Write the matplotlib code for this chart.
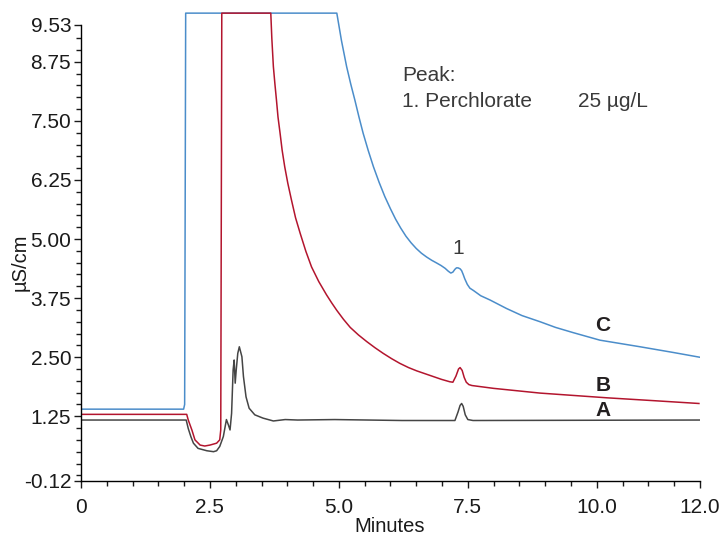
import matplotlib
matplotlib.use("Agg")
import matplotlib.pyplot as plt

#Chromatogram data (time in minutes, conductivity in uS/cm)
time_a = [0, 2.04, 2.08, 2.13, 2.18, 2.27, 2.44, 2.57, 2.63, 2.69, 2.76, 2.82, 2.86, 2.89, 2.92, 2.95,
          2.97, 2.99, 3.01, 3.04, 3.07, 3.12, 3.15, 3.20, 3.26, 3.37, 3.53, 3.73, 3.96, 4.2, 4.92, 6.22,
          7.25, 7.31, 7.35, 7.38, 7.41, 7.45, 7.50, 7.60, 12.0]
signal_a = [1.17, 1.17, 0.99, 0.82, 0.68, 0.57, 0.52, 0.50, 0.52, 0.61, 0.82, 1.18, 1.06, 0.96, 1.31, 2.23,
            2.44, 1.95, 2.23, 2.58, 2.72, 2.51, 2.09, 1.66, 1.42, 1.28, 1.21, 1.15, 1.18, 1.17, 1.18, 1.16,
            1.16, 1.34, 1.48, 1.52, 1.46, 1.28, 1.18, 1.16, 1.17]

time_b = [0, 2.05, 2.08, 2.15, 2.21, 2.31, 2.40, 2.50, 2.63, 2.69, 2.71, 2.73, 3.68, 3.70, 3.73, 3.76,
          3.79, 3.82, 3.86, 3.90, 3.95, 4.01, 4.08, 4.16, 4.25, 4.36, 4.47, 4.61, 4.76, 4.86, 4.96, 5.09,
          5.22, 5.38, 5.54, 5.70, 5.86, 6.02, 6.18, 6.35, 6.51, 6.67, 6.83, 6.99, 7.15, 7.21, 7.27, 7.32,
          7.35, 7.39, 7.43, 7.47, 7.52, 7.58, 8.0, 8.45, 8.90, 9.55, 10.20, 11.1, 11.98]
signal_b = [1.29, 1.29, 1.17, 0.96, 0.75, 0.64, 0.62, 0.64, 0.68, 0.75, 0.96, 9.78, 9.78, 9.25, 8.65, 8.28,
            7.94, 7.58, 7.24, 6.88, 6.53, 6.18, 5.83, 5.45, 5.12, 4.74, 4.41, 4.10, 3.82, 3.65, 3.49, 3.30,
            3.13, 2.97, 2.83, 2.70, 2.58, 2.47, 2.37, 2.28, 2.21, 2.15, 2.09, 2.03, 1.98, 1.97, 2.10, 2.25,
            2.28, 2.22, 2.07, 1.97, 1.92, 1.90, 1.84, 1.79, 1.74, 1.69, 1.64, 1.58, 1.52]

time_c = [0, 1.99, 2.01, 2.03, 4.96, 5.05, 5.15, 5.23, 5.31, 5.39, 5.47, 5.57, 5.67, 5.78, 5.89, 6.00,
          6.10, 6.20, 6.30, 6.40, 6.50, 6.60, 6.70, 6.80, 6.90, 6.98, 7.06, 7.12, 7.17, 7.21, 7.25, 7.28,
          7.31, 7.35, 7.38, 7.41, 7.44, 7.49, 7.54, 7.61, 7.75, 7.93, 8.25, 8.55, 8.90, 9.20, 9.54, 9.80,
          10.06, 10.45, 10.84, 11.48, 11.99]
signal_c = [1.40, 1.40, 1.50, 9.78, 9.78, 9.20, 8.65, 8.28, 7.94, 7.58, 7.24, 6.87, 6.53, 6.20, 5.90, 5.64,
            5.42, 5.23, 5.06, 4.92, 4.80, 4.70, 4.62, 4.55, 4.49, 4.44, 4.38, 4.32, 4.28, 4.30, 4.36, 4.39,
            4.39, 4.37, 4.33, 4.25, 4.16, 4.04, 3.96, 3.91, 3.80, 3.71, 3.53, 3.38, 3.25, 3.13, 3.02, 2.94,
            2.86, 2.79, 2.72, 2.60, 2.50]

y_ticks = [-0.12, 1.25, 2.50, 3.75, 5.00, 6.25, 7.50, 8.75, 9.53]
y_tick_labels = ["-0.12", "1.25", "2.50", "3.75", "5.00", "6.25", "7.50", "8.75", "9.53"]
y_minor = [0.0, 0.25, 0.5, 0.75, 1.0, 1.5, 1.75, 2.0, 2.25, 2.75, 3.0, 3.25, 3.5, 4.0, 4.25, 4.5, 4.75,
           5.25, 5.5, 5.75, 6.0, 6.5, 6.75, 7.0, 7.25, 7.75, 8.0, 8.25, 8.5, 9.0, 9.25]
x_ticks = [0, 2.5, 5.0, 7.5, 10.0, 12.0]
x_tick_labels = ["0", "2.5", "5.0", "7.5", "10.0", "12.0"]
x_minor = [0.5, 1.0, 1.5, 2.0, 3.0, 3.5, 4.0, 4.5, 5.5, 6.0, 6.5, 7.0, 8.0, 8.5, 9.0, 9.5, 10.5, 11.0, 11.5]

plt.rcParams["font.family"] = ["Liberation Sans", "DejaVu Sans"]

#Create figure and axes
fig = plt.figure(figsize=(7.21, 5.37), dpi=100)
ax = fig.add_axes([0.1123, 0.1043, 0.8585, 0.873])

ax.plot(time_c, signal_c, color="#4b8dca", lw=1.1)
ax.plot(time_b, signal_b, color="#b3152e", lw=1.1)
ax.plot(time_a, signal_a, color="#454545", lw=1.1)

ax.set_xlim(0, 12.0)
ax.set_ylim(-0.12, 9.80)

#Axis styling
for side in ["top", "right"]:
    ax.spines[side].set_visible(False)
ax.spines["left"].set_bounds(-0.12, 9.53)
ax.spines["left"].set_linewidth(1.0)
ax.spines["bottom"].set_linewidth(1.0)

ax.set_yticks(y_ticks)
ax.set_yticklabels(y_tick_labels)
ax.set_yticks(y_minor, minor=True)
ax.set_xticks(x_ticks)
ax.set_xticklabels(x_tick_labels)
ax.set_xticks(x_minor, minor=True)
ax.tick_params(which="major", length=5, width=1.0, labelsize=15, colors="#1a1a1a")
ax.tick_params(axis="y", which="major", pad=2)
ax.tick_params(axis="x", which="major", pad=7)
ax.tick_params(which="minor", length=3.5, width=1.0, colors="#1a1a1a")

ax.set_xlabel("Minutes", fontsize=14.5, color="#1a1a1a")
ax.xaxis.set_label_coords(0.499, -0.076)
ax.set_ylabel("µS/cm", fontsize=14.5, color="#1a1a1a")
ax.yaxis.set_label_coords(-0.083, 0.467)

#Annotations
ax.text(6.22, 8.45, "Peak:", fontsize=15, color="#3a3a3a", va="center", ha="left")
ax.text(6.22, 7.90, "1. Perchlorate", fontsize=15, color="#3a3a3a", va="center", ha="left")
ax.text(9.64, 7.90, "25 µg/L", fontsize=15, color="#3a3a3a", va="center", ha="left")
ax.text(7.31, 4.81, "1", fontsize=15, color="#3a3a3a", va="center", ha="center")

ax.text(10.12, 3.16, "C", fontsize=15, fontweight="bold", color="#231f20", va="center", ha="center")
ax.text(10.12, 1.91, "B", fontsize=15, fontweight="bold", color="#231f20", va="center", ha="center")
ax.text(10.12, 1.38, "A", fontsize=15, fontweight="bold", color="#231f20", va="center", ha="center")

plt.savefig("out.png", dpi=100)
